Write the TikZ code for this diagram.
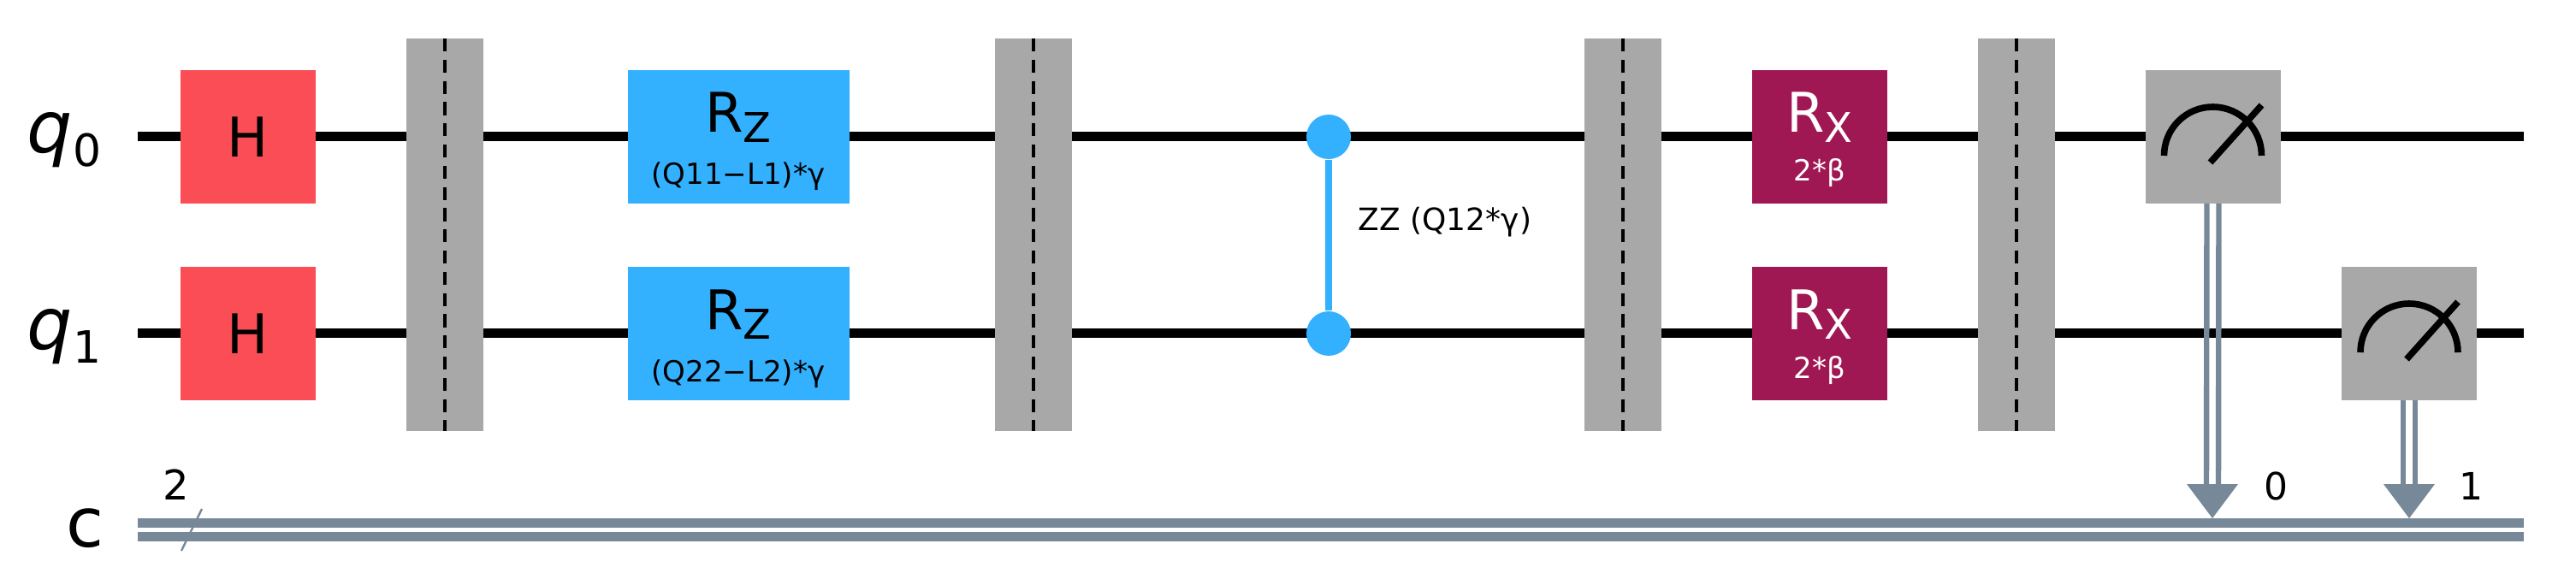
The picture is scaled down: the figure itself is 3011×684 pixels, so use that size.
\documentclass[tikz,border=0pt]{standalone}
\usepackage{fontspec}
\setmainfont{DejaVu Sans}
\usetikzlibrary{calc}
\definecolor{hred}{HTML}{FA4D56}
\definecolor{rzb}{HTML}{33B1FF}
\definecolor{rxm}{HTML}{9F1853}
\definecolor{barg}{HTML}{A8A8A8}
\definecolor{clg}{HTML}{778899}
\newcommand{\fs}[1]{\fontsize{#1}{#1}\selectfont}
\begin{document}
\begin{tikzpicture}[x=0.25pt,y=-0.25pt,
  box/.style={inner sep=0pt,outer sep=0pt,draw=none},
  gate/.style={box,minimum width=39.5pt,minimum height=39pt},
  bar/.style={box,fill=barg,minimum width=22.5pt,minimum height=114.75pt},
  qwire/.style={line width=2.75pt,black},
  cwire/.style={line width=2.75pt,clg},
  dsh/.style={line width=1.2pt,black,dash pattern=on 3.8pt off 2.4pt},
  lbl/.style={inner sep=0pt,anchor=base}]
\useasboundingbox (0,0) rectangle (3011,684);
% wires
\coordinate (w0s) at (161,160); \coordinate (w0e) at (2950,160);
\coordinate (w1s) at (161,390); \coordinate (w1e) at (2950,390);
\draw[qwire] (w0s) -- (w0e);
\draw[qwire] (w1s) -- (w1e);
\coordinate (c0s) at (161,611.5); \coordinate (c0e) at (2950,611.5);
\coordinate (c1s) at (161,627.5); \coordinate (c1e) at (2950,627.5);
\draw[cwire] (c0s) -- (c0e);
\draw[cwire] (c1s) -- (c1e);
\coordinate (sl1) at (236,595); \coordinate (sl2) at (212,644);
\draw[clg,line width=0.6pt] (sl1) -- (sl2);
% labels
\node[lbl] (lq0) at (75,179) {{\fs{21}\itshape q}\raisebox{-3.8pt}{\fs{13}0}};
\node[lbl] (lq1) at (75,409) {{\fs{21}\itshape q}\raisebox{-3.8pt}{\fs{13}1}};
\node[lbl] (lc) at (99,639) {\fs{20}c};
\node[lbl] (l2) at (206,584) {\fs{12}2};
% H gates
\node[gate,fill=hred] (h0) at (290,160) {\fs{16}H};
\node[gate,fill=hred] (h1) at (290,390) {\fs{16}H};
% barriers
\foreach \n/\x in {b1/520,b2/1208,b3/1897,b4/2357}{
  \node[bar] (\n) at (\x,274.5) {};
  \draw[dsh] (\n.north) -- (\n.south);
}
% Rz gates
\node[box,fill=rzb,minimum width=64.75pt,minimum height=39pt] (rz0) at (863.5,160) {};
\node[box,fill=rzb,minimum width=64.75pt,minimum height=39pt] (rz1) at (863.5,390) {};
\node[lbl] (rz0t) at (863,155) {\fs{16}R\raisebox{-2.8pt}{\fs{12}Z}};
\node[lbl] (rz0p) at (863,216) {\fs{8.5}(Q11−L1)*γ};
\node[lbl] (rz1t) at (863,385) {\fs{16}R\raisebox{-2.8pt}{\fs{12}Z}};
\node[lbl] (rz1p) at (863,446) {\fs{8.5}(Q22−L2)*γ};
% ZZ
\node[circle,fill=rzb,minimum size=13pt,inner sep=0pt] (z0) at (1553,160) {};
\node[circle,fill=rzb,minimum size=13pt,inner sep=0pt] (z1) at (1553,390) {};
\draw[rzb,line width=2pt] (z0) -- (z1);
\node[lbl,anchor=base west] (zzl) at (1587,270) {\fs{9}ZZ (Q12*γ)};
% Rx gates
\node[gate,fill=rxm] (rx0) at (2127,160) {};
\node[gate,fill=rxm] (rx1) at (2127,390) {};
\node[lbl,white] (rx0t) at (2127,155) {\fs{16}R\raisebox{-2.8pt}{\fs{12}X}};
\node[lbl,white] (rx0p) at (2127,212) {\fs{8.5}2*β};
\node[lbl,white] (rx1t) at (2127,385) {\fs{16}R\raisebox{-2.8pt}{\fs{12}X}};
\node[lbl,white] (rx1p) at (2127,442) {\fs{8.5}2*β};
% measurements
\node[gate,fill=barg] (m0) at (2586.5,160) {};
\node[gate,fill=barg] (m1) at (2816,390) {};
\foreach \m/\y in {m0/160,m1/390}{
  \draw[black,line width=1.9pt] ($(\m)+(-57,22)$) arc[start angle=180,end angle=0,x radius=57,y radius=-57];
  \draw[black,line width=1.9pt] ($(\m)+(-3,30)$) -- ($(\m)+(57,-37)$);
}
% measurement to classical
\coordinate (a0) at (2586,606); \coordinate (a1) at (2816,606);
\foreach \m/\a in {m0/a0,m1/a1}{
  \draw[clg,line width=1.6pt] ($(\m.south)+(-7,0)$) -- ($(\a)+(-7,-40)$);
  \draw[clg,line width=1.6pt] ($(\m.south)+(7,0)$) -- ($(\a)+(7,-40)$);
  \fill[clg] ($(\a)+(-30,-40)$) -- ($(\a)+(30,-40)$) -- (\a) -- cycle;
}
\node[lbl] (l0) at (2660,584) {\fs{11}0};
\node[lbl] (l1) at (2888,584) {\fs{11}1};
\end{tikzpicture}
\end{document}
